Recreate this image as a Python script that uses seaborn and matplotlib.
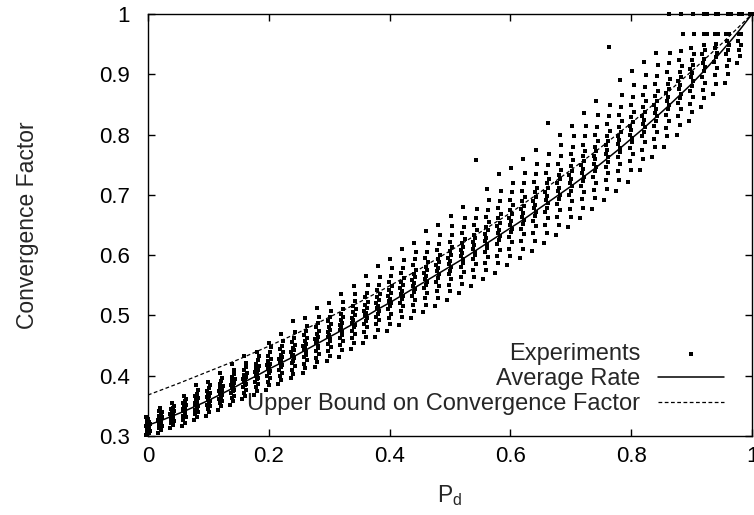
import numpy as np
import pandas as pd
import matplotlib
matplotlib.use("Agg")
import matplotlib.pyplot as plt
import seaborn as sns

# ---------------- data ----------------
pd_values = [0.00, 0.02, 0.04, 0.06, 0.08, 0.10, 0.12, 0.14, 0.16, 0.18,
             0.20, 0.22, 0.24, 0.26, 0.28, 0.30, 0.32, 0.34, 0.36, 0.38,
             0.40, 0.42, 0.44, 0.46, 0.48, 0.50, 0.52, 0.54, 0.56, 0.58,
             0.60, 0.62, 0.64, 0.66, 0.68, 0.70, 0.72, 0.74, 0.76, 0.78,
             0.80, 0.82, 0.84, 0.86, 0.88, 0.90, 0.92, 0.94, 0.96, 0.98, 1.00]

average_rate = [0.318, 0.325, 0.333, 0.341, 0.350, 0.359, 0.369, 0.379, 0.390, 0.400,
                0.411, 0.421, 0.431, 0.442, 0.453, 0.464, 0.475, 0.486, 0.498, 0.510,
                0.521, 0.533, 0.545, 0.557, 0.569, 0.581, 0.593, 0.606, 0.619, 0.632,
                0.645, 0.658, 0.672, 0.686, 0.700, 0.714, 0.729, 0.744, 0.760, 0.776,
                0.793, 0.810, 0.828, 0.846, 0.865, 0.884, 0.905, 0.927, 0.950, 0.974, 1.000]

bound_pd = [0.00, 0.05, 0.10, 0.15, 0.20, 0.25, 0.30, 0.35, 0.40, 0.45, 0.50,
            0.55, 0.60, 0.65, 0.70, 0.75, 0.80, 0.85, 0.90, 0.95, 1.00]
upper_bound = [0.368, 0.387, 0.407, 0.427, 0.449, 0.472, 0.497, 0.522, 0.549, 0.577, 0.607,
               0.638, 0.670, 0.705, 0.741, 0.779, 0.819, 0.861, 0.905, 0.951, 1.000]

experiments = [
    [0.302, 0.305, 0.307, 0.309, 0.310, 0.312, 0.313, 0.315, 0.316, 0.317, 0.318, 0.319, 0.320, 0.321, 0.322, 0.324, 0.326, 0.328, 0.331],
    [0.305, 0.310, 0.313, 0.316, 0.318, 0.320, 0.322, 0.324, 0.325, 0.327, 0.328, 0.330, 0.332, 0.334, 0.336, 0.339, 0.342, 0.347],
    [0.314, 0.318, 0.322, 0.325, 0.327, 0.329, 0.331, 0.333, 0.335, 0.336, 0.338, 0.340, 0.342, 0.344, 0.347, 0.350, 0.355],
    [0.316, 0.322, 0.327, 0.331, 0.334, 0.337, 0.339, 0.341, 0.343, 0.345, 0.347, 0.349, 0.352, 0.355, 0.358, 0.362, 0.367],
    [0.326, 0.331, 0.336, 0.340, 0.343, 0.346, 0.349, 0.351, 0.353, 0.355, 0.357, 0.360, 0.363, 0.366, 0.370, 0.376, 0.385],
    [0.333, 0.340, 0.345, 0.349, 0.352, 0.355, 0.358, 0.360, 0.362, 0.364, 0.367, 0.369, 0.372, 0.375, 0.379, 0.384, 0.390],
    [0.343, 0.349, 0.354, 0.358, 0.362, 0.365, 0.368, 0.370, 0.372, 0.375, 0.377, 0.380, 0.383, 0.387, 0.391, 0.397, 0.405],
    [0.352, 0.358, 0.363, 0.367, 0.371, 0.374, 0.377, 0.380, 0.382, 0.385, 0.388, 0.391, 0.394, 0.398, 0.403, 0.410, 0.420],
    [0.361, 0.367, 0.372, 0.377, 0.381, 0.384, 0.387, 0.390, 0.393, 0.395, 0.398, 0.401, 0.405, 0.409, 0.414, 0.421, 0.432],
    [0.368, 0.375, 0.381, 0.386, 0.390, 0.394, 0.397, 0.400, 0.403, 0.406, 0.409, 0.412, 0.416, 0.420, 0.426, 0.433, 0.440],
    [0.377, 0.384, 0.390, 0.396, 0.400, 0.404, 0.408, 0.411, 0.414, 0.417, 0.420, 0.424, 0.428, 0.433, 0.439, 0.447, 0.455],
    [0.386, 0.393, 0.400, 0.405, 0.410, 0.414, 0.418, 0.421, 0.424, 0.427, 0.431, 0.435, 0.439, 0.444, 0.450, 0.458, 0.470],
    [0.396, 0.403, 0.410, 0.416, 0.421, 0.425, 0.429, 0.432, 0.435, 0.439, 0.442, 0.446, 0.451, 0.456, 0.463, 0.472, 0.490],
    [0.405, 0.413, 0.420, 0.426, 0.431, 0.435, 0.439, 0.443, 0.446, 0.449, 0.453, 0.457, 0.462, 0.467, 0.474, 0.483, 0.496],
    [0.414, 0.423, 0.430, 0.436, 0.441, 0.446, 0.450, 0.454, 0.457, 0.461, 0.465, 0.469, 0.474, 0.480, 0.487, 0.497, 0.512],
    [0.425, 0.433, 0.441, 0.447, 0.452, 0.457, 0.461, 0.465, 0.468, 0.472, 0.476, 0.480, 0.485, 0.491, 0.498, 0.508, 0.520],
    [0.431, 0.443, 0.451, 0.457, 0.463, 0.468, 0.472, 0.476, 0.480, 0.484, 0.488, 0.492, 0.497, 0.503, 0.511, 0.522, 0.535],
    [0.444, 0.454, 0.462, 0.469, 0.475, 0.480, 0.484, 0.488, 0.492, 0.496, 0.500, 0.505, 0.510, 0.516, 0.524, 0.535, 0.548],
    [0.455, 0.465, 0.473, 0.480, 0.486, 0.491, 0.496, 0.500, 0.504, 0.508, 0.513, 0.518, 0.523, 0.530, 0.538, 0.550, 0.565],
    [0.465, 0.476, 0.485, 0.492, 0.498, 0.503, 0.508, 0.512, 0.516, 0.521, 0.525, 0.530, 0.536, 0.543, 0.551, 0.563, 0.582],
    [0.474, 0.486, 0.496, 0.503, 0.510, 0.515, 0.520, 0.524, 0.528, 0.533, 0.538, 0.543, 0.549, 0.556, 0.565, 0.578, 0.593],
    [0.484, 0.497, 0.507, 0.515, 0.521, 0.527, 0.532, 0.536, 0.541, 0.545, 0.550, 0.556, 0.562, 0.570, 0.579, 0.592, 0.610],
    [0.495, 0.508, 0.518, 0.526, 0.533, 0.539, 0.544, 0.548, 0.553, 0.558, 0.563, 0.568, 0.575, 0.583, 0.593, 0.606, 0.620],
    [0.505, 0.518, 0.529, 0.537, 0.545, 0.551, 0.556, 0.561, 0.565, 0.570, 0.575, 0.581, 0.588, 0.596, 0.606, 0.620, 0.640],
    [0.515, 0.529, 0.540, 0.549, 0.556, 0.562, 0.568, 0.573, 0.578, 0.583, 0.588, 0.594, 0.601, 0.609, 0.619, 0.633, 0.650],
    [0.526, 0.540, 0.551, 0.560, 0.568, 0.574, 0.580, 0.585, 0.590, 0.595, 0.601, 0.607, 0.614, 0.622, 0.633, 0.648, 0.665],
    [0.537, 0.552, 0.563, 0.572, 0.580, 0.587, 0.593, 0.598, 0.603, 0.608, 0.614, 0.620, 0.627, 0.636, 0.647, 0.662, 0.680],
    [0.548, 0.563, 0.575, 0.585, 0.593, 0.600, 0.606, 0.611, 0.616, 0.622, 0.628, 0.634, 0.641, 0.650, 0.661, 0.677, 0.757],
    [0.560, 0.575, 0.587, 0.597, 0.605, 0.612, 0.619, 0.624, 0.629, 0.635, 0.641, 0.647, 0.655, 0.664, 0.675, 0.691, 0.710],
    [0.571, 0.587, 0.599, 0.609, 0.618, 0.625, 0.631, 0.637, 0.642, 0.648, 0.654, 0.661, 0.669, 0.678, 0.690, 0.706, 0.735],
    [0.583, 0.599, 0.611, 0.621, 0.630, 0.638, 0.644, 0.650, 0.656, 0.662, 0.668, 0.675, 0.683, 0.692, 0.704, 0.720, 0.745],
    [0.595, 0.611, 0.624, 0.635, 0.644, 0.651, 0.658, 0.664, 0.670, 0.676, 0.682, 0.689, 0.697, 0.707, 0.719, 0.736, 0.760],
    [0.607, 0.624, 0.637, 0.648, 0.657, 0.665, 0.672, 0.678, 0.684, 0.690, 0.697, 0.704, 0.712, 0.722, 0.734, 0.752, 0.775],
    [0.620, 0.637, 0.650, 0.661, 0.671, 0.679, 0.686, 0.692, 0.698, 0.705, 0.711, 0.719, 0.727, 0.737, 0.750, 0.768, 0.820],
    [0.633, 0.650, 0.664, 0.675, 0.685, 0.693, 0.700, 0.706, 0.712, 0.719, 0.726, 0.733, 0.742, 0.752, 0.765, 0.783, 0.800],
    [0.646, 0.663, 0.677, 0.689, 0.699, 0.707, 0.714, 0.720, 0.727, 0.733, 0.740, 0.748, 0.757, 0.767, 0.780, 0.798, 0.815],
    [0.661, 0.678, 0.693, 0.705, 0.714, 0.723, 0.730, 0.736, 0.743, 0.749, 0.756, 0.764, 0.773, 0.783, 0.797, 0.815, 0.835],
    [0.676, 0.694, 0.708, 0.720, 0.730, 0.739, 0.746, 0.752, 0.759, 0.765, 0.772, 0.780, 0.789, 0.800, 0.813, 0.832, 0.855],
    [0.691, 0.709, 0.724, 0.736, 0.746, 0.755, 0.762, 0.768, 0.775, 0.782, 0.789, 0.797, 0.806, 0.817, 0.830, 0.849, 0.945],
    [0.707, 0.725, 0.740, 0.752, 0.762, 0.771, 0.778, 0.784, 0.791, 0.798, 0.805, 0.813, 0.822, 0.833, 0.846, 0.865, 0.890],
    [0.722, 0.741, 0.756, 0.768, 0.778, 0.787, 0.794, 0.800, 0.807, 0.814, 0.821, 0.829, 0.838, 0.849, 0.862, 0.882, 0.905],
    [0.742, 0.760, 0.775, 0.787, 0.797, 0.805, 0.812, 0.818, 0.825, 0.831, 0.838, 0.846, 0.855, 0.866, 0.879, 0.898, 0.920],
    [0.762, 0.779, 0.793, 0.805, 0.815, 0.823, 0.830, 0.836, 0.843, 0.849, 0.856, 0.864, 0.873, 0.884, 0.897, 0.915, 0.935],
    [0.780, 0.797, 0.811, 0.823, 0.833, 0.842, 0.849, 0.855, 0.862, 0.869, 0.876, 0.884, 0.893, 0.904, 0.918, 0.935, 1.000],
    [0.800, 0.816, 0.830, 0.842, 0.852, 0.861, 0.868, 0.875, 0.882, 0.889, 0.896, 0.904, 0.913, 0.924, 0.938, 0.967, 1.000],
    [0.822, 0.838, 0.851, 0.862, 0.872, 0.881, 0.889, 0.895, 0.902, 0.909, 0.916, 0.924, 0.933, 0.944, 0.967, 0.967, 1.000],
    [0.845, 0.861, 0.874, 0.886, 0.896, 0.905, 0.912, 0.919, 0.926, 0.933, 0.940, 0.948, 0.967, 0.967, 0.967, 1.000, 1.000],
    [0.868, 0.884, 0.898, 0.910, 0.920, 0.928, 0.936, 0.943, 0.950, 0.967, 0.967, 0.967, 0.967, 1.000, 1.000, 1.000],
    [0.885, 0.900, 0.913, 0.924, 0.933, 0.941, 0.948, 0.955, 0.967, 0.967, 0.967, 0.967, 1.000, 1.000, 1.000, 1.000],
    [0.918, 0.930, 0.940, 0.948, 0.955, 0.967, 0.967, 0.967, 0.967, 1.000, 1.000, 1.000, 1.000, 1.000, 1.000],
    [1.000, 1.000, 1.000, 1.000, 1.000, 1.000, 1.000, 1.000, 1.000, 1.000],
]

x_ticks = [0, 0.2, 0.4, 0.6, 0.8, 1]
x_tick_labels = ["0", "0.2", "0.4", "0.6", "0.8", "1"]
y_ticks = [0.3, 0.4, 0.5, 0.6, 0.7, 0.8, 0.9, 1.0]
y_tick_labels = ["0.3", "0.4", "0.5", "0.6", "0.7", "0.8", "0.9", "1"]

# ---------------- build long table; small within-column spread ----------------
jit = [-0.003, 0.0015, -0.001, 0.003, -0.002, 0.001, 0.002, -0.0015, 0.0]
rows = []
for p, avg, ys in zip(pd_values, average_rate, experiments):
    for i, y in enumerate(ys):
        rows.append((p + jit[i % len(jit)] + 0.03 * (y - avg), y))
exp_df = pd.DataFrame(rows, columns=["Pd", "factor"])
avg_df = pd.DataFrame({"Pd": pd_values, "factor": average_rate})
ub_df = pd.DataFrame({"Pd": bound_pd, "factor": upper_bound})

# ---------------- style ----------------
sns.set_theme(style="ticks")
plt.rcParams["font.family"] = ["Liberation Sans", "DejaVu Sans"]
plt.rcParams["mathtext.default"] = "regular"
plt.rcParams["axes.linewidth"] = 1.0

fig = plt.figure(figsize=(7.54, 5.15), dpi=100)
ax = fig.add_axes([148 / 754, 1 - 436 / 515, 604 / 754, 422 / 515])

sns.scatterplot(data=exp_df, x="Pd", y="factor", ax=ax, marker="s", s=7.5,
                color="black", linewidth=0, label="Experiments", clip_on=False,
                zorder=3)
sns.lineplot(data=avg_df, x="Pd", y="factor", ax=ax, color="black",
             linewidth=1.1, label="Average Rate", zorder=4)
sns.lineplot(data=ub_df, x="Pd", y="factor", ax=ax, color="black",
             linewidth=0.9, linestyle=(0, (3, 2)), label="Upper Bound on Convergence Factor",
             zorder=4)

ax.set_xlim(0, 1)
ax.set_ylim(0.3, 1.0)
ax.set_xticks(x_ticks)
ax.set_xticklabels(x_tick_labels)
ax.set_yticks(y_ticks)
ax.set_yticklabels(y_tick_labels)
ax.tick_params(axis="both", direction="in", length=5, width=1, labelsize=16,
               top=True, right=True, colors="black")
ax.tick_params(axis="y", pad=13)
ax.tick_params(axis="x", pad=7)
for s in ax.spines.values():
    s.set_visible(True)
    s.set_color("black")
ax.set_xlabel("P$_{d}$", fontsize=16.5)
ax.set_ylabel("Convergence Factor", fontsize=16.5)
ax.xaxis.set_label_coords(0.5, -0.112)
ax.yaxis.set_label_coords(-0.18, 0.5)

leg = ax.legend(loc="lower right", bbox_to_anchor=(0.954, 0.05), frameon=False,
                markerfirst=False, fontsize=17, handlelength=2.8,
                handletextpad=0.76, labelspacing=0.12, borderpad=0,
                borderaxespad=0, markerscale=1.0)

fig.savefig("out.png", dpi=100)
